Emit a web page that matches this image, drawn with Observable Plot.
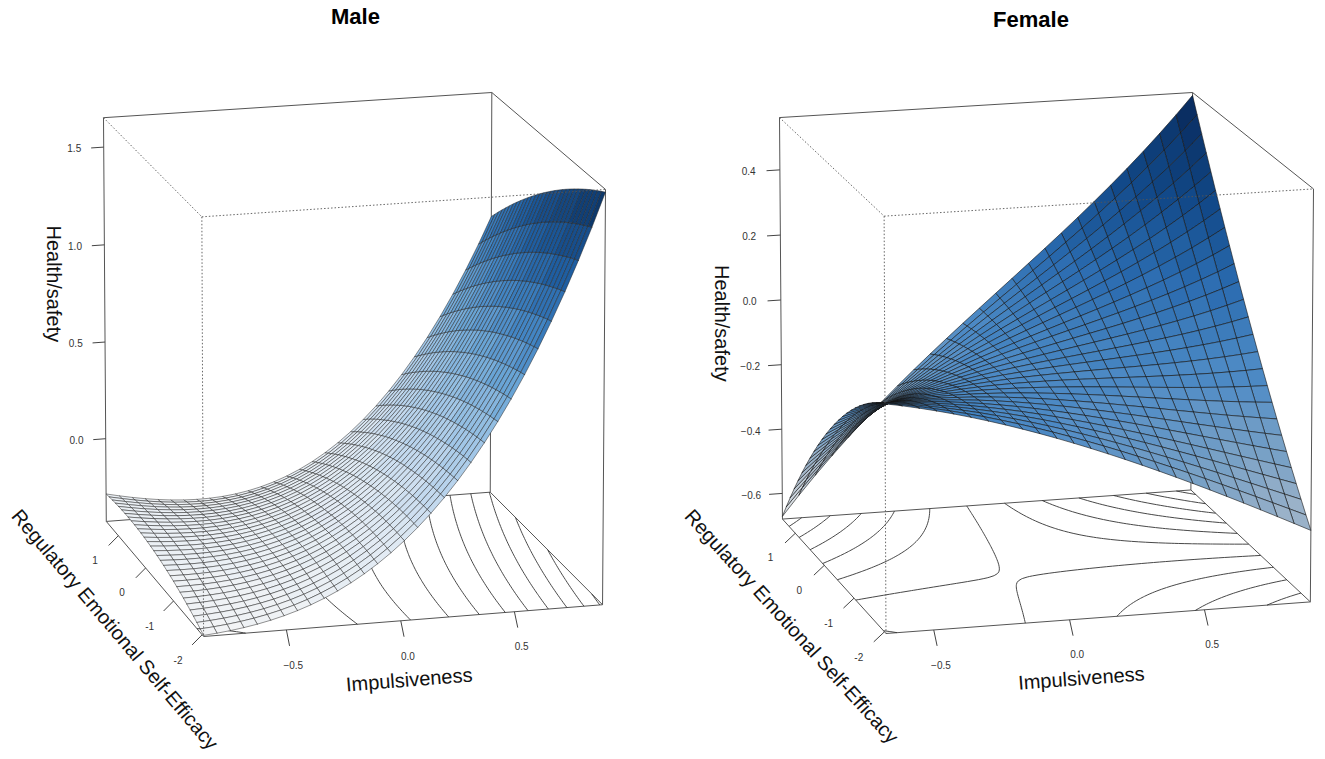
<!DOCTYPE html>
<html><head><meta charset="utf-8">
<script src="https://cdn.jsdelivr.net/npm/d3@7"></script>
<script src="https://cdn.jsdelivr.net/npm/@observablehq/plot@0.6"></script>
<style>
body{margin:0;background:#fff;}
#wrap{width:1325px;height:759px;display:flex;overflow:hidden;}
#wrap svg{overflow:visible;}
</style></head><body><div id="wrap"></div>
<script>
// ---------------- data ----------------
const panelTitles = ["Male", "Female"];
const xAxisTitle = "Impulsiveness";
const yAxisTitle = "Regulatory Emotional Self-Efficacy";
const zAxisTitle = "Health/safety";

const maleImpulsivenessLim = [-0.86, 0.89];
const maleRESELim = [-2.05, 1.45];
const maleHealthLim = [-0.43, 1.65];
const femaleImpulsivenessLim = [-0.675, 0.895];
const femaleRESELim = [-2.05, 1.45];
const femaleHealthLim = [-0.68, 0.56];

// surface heights: [Impulsiveness, RESE, Health/safety]
const maleFrontEdge = [[-0.86,-2.05,-0.43],[-0.265,-2.05,-0.23],[0.107,-2.05,0.057],[0.383,-2.05,0.47],[0.663,-2.05,1.01],[0.89,-2.05,1.65]];
const maleBackEdge = [[-0.86,1.45,-0.28],[-0.41,1.45,-0.365],[0.015,1.45,-0.236],[0.30,1.45,0.007],[0.59,1.45,0.38],[0.78,1.45,0.78],[0.89,1.45,0.99]];
const maleSideEdges = [[0.89,-0.3,1.387]];
const femaleFrontEdge = [[-0.675,-2.05,0.01],[-0.25,-2.05,-0.079],[0.06,-2.05,-0.163],[0.37,-2.05,-0.264],[0.68,-2.05,-0.383],[0.895,-2.05,-0.487]];
const femaleBackEdge = [[-0.675,1.45,-0.67],[0.16,1.45,-0.003],[0.54,1.45,0.253],[0.895,1.45,0.56]];
const femalePinchLine = [[-0.675,-2.05,0.005],[-0.578,-1.175,-0.085],[-0.48,-0.3,-0.17],[-0.385,0.575,-0.255],[-0.29,1.45,-0.34]];
const femaleSideEdges = [[0.895,-1.29,-0.225],[0.895,-0.405,-0.046],[0.895,0.36,0.151],[0.895,0.86,0.37]];

// polynomial response-surface terms (powers of Impulsiveness, RESE)
const maleTerms = [[0,0],[1,0],[2,0],[3,0],[0,1],[1,1],[2,1],[0,2]];
const femaleTerms = [[0,0],[1,0],[2,0],[3,0],[0,1],[1,1],[2,1],[3,1],[0,2],[1,2]];

const impulsivenessTicks = [-0.5, 0.0, 0.5];
const reseTicks = [-2, -1, 0, 1];
const maleHealthTicks = [0.0, 0.5, 1.0, 1.5];
const femaleHealthTicks = [-0.6, -0.4, -0.2, 0.0, 0.2, 0.4];
const maleContourLevels = [-0.4, -0.2, 0, 0.2, 0.4, 0.6, 0.8, 1.0, 1.2, 1.4, 1.6];
const femaleContourLevels = [-0.6, -0.5, -0.4, -0.3, -0.2, -0.1, 0, 0.1, 0.2, 0.3, 0.4, 0.5];

const maleColors = ["#f3f4f6", "#dde8f3", "#a6c9e8", "#6fa8d8", "#3d80c0", "#1c5a9e", "#0a3060"];
const femaleColors = ["#e6e9ec", "#aebdcc", "#7fa4c6", "#4f8cc6", "#2b6cb0", "#124a8a", "#08285a"];
const maleColorStops = [0, 0.2, 0.38, 0.52, 0.66, 0.8, 1];
const femaleColorStops = [0, 0.15, 0.3, 0.45, 0.62, 0.78, 1];

// ---------------- least-squares surface ----------------
function fitSurface(samples, terms) {
  const n = terms.length;
  const M = Array.from({length: n}, () => new Array(n + 1).fill(0));
  for (const [X, Y, z] of samples) {
    const ph = terms.map(([p, q]) => Math.pow(X, p) * Math.pow(Y, q));
    for (let i = 0; i < n; i++) {
      for (let j = 0; j < n; j++) M[i][j] += ph[i] * ph[j];
      M[i][n] += ph[i] * z;
    }
  }
  for (let i = 0; i < n; i++) M[i][i] += 1e-9;
  for (let c = 0; c < n; c++) {
    let piv = c;
    for (let r = c + 1; r < n; r++) if (Math.abs(M[r][c]) > Math.abs(M[piv][c])) piv = r;
    [M[c], M[piv]] = [M[piv], M[c]];
    for (let r = 0; r < n; r++) if (r !== c) {
      const k = M[r][c] / M[c][c];
      for (let j = c; j <= n; j++) M[r][j] -= k * M[c][j];
    }
  }
  const coef = M.map((row, i) => row[n] / row[i]);
  return (X, Y) => terms.reduce((s, [p, q], i) => s + coef[i] * Math.pow(X, p) * Math.pow(Y, q), 0);
}

// ---------------- view ----------------
const THETA = -15 * Math.PI / 180, PHI = 15 * Math.PI / 180, DIST = 45;
function project(nx, ny, nz) {
  const ct = Math.cos(THETA), st = Math.sin(THETA), cp = Math.cos(PHI), sp = Math.sin(PHI);
  const x1 = nx * ct + ny * st;
  const D = nx * st - ny * ct;
  const y2 = nz * cp - D * sp;
  const z2 = nz * sp + D * cp;
  const s = DIST / (DIST - z2);
  return {px: x1 * s, py: y2 * s, depth: z2};
}

function makePanel(o) {
  const {title, xlim, ylim, zlim, f, zTicks, levels, nGrid, colors, stops,
         L, R, T, B, width, titleDx, titleDy, xTitleShift, zTitleAt, zTitleDx, meshStroke, meshWidth} = o;
  const nX = v => 2 * (v - xlim[0]) / (xlim[1] - xlim[0]) - 1;
  const nY = v => 2 * (v - ylim[0]) / (ylim[1] - ylim[0]) - 1;
  const nZ = v => 2 * (v - zlim[0]) / (zlim[1] - zlim[0]) - 1;
  const P = (a, b, c) => project(a, b, c);

  const corners = {A: [-1, 1, 1], B: [1, 1, 1], C: [1, -1, 1], D: [-1, -1, 1],
                   A2: [-1, 1, -1], B2: [1, 1, -1], C2: [1, -1, -1], D2: [-1, -1, -1]};
  const pc = {};
  for (const k in corners) pc[k] = P(...corners[k]);
  const xDom = d3.extent(Object.values(pc), d => d.px), yDom = d3.extent(Object.values(pc), d => d.py);
  const kx = (R - L) / (xDom[1] - xDom[0]), ky = (B - T) / (yDom[1] - yDom[0]);
  const angle = (a, b) => Math.atan2(-(b.py - a.py) * ky, (b.px - a.px) * kx) * 180 / Math.PI;
  const edge = ([a, b]) => ({x1: pc[a].px, y1: pc[a].py, x2: pc[b].px, y2: pc[b].py});
  const backEdges = [["A","B"],["B","C"],["A","A2"],["B","B2"],["C","C2"],["A2","B2"],["B2","C2"],["C2","D2"],["D2","A2"]].map(edge);
  const frontEdges = [["A","D"],["D","C"],["D","D2"]].map(edge);

  const ramp = d3.scaleLinear().domain(stops).range(colors).interpolate(d3.interpolateRgb).clamp(true);

  const Xs = d3.range(nGrid + 1).map(i => xlim[0] + (xlim[1] - xlim[0]) * i / nGrid);
  const Ys = d3.range(nGrid + 1).map(j => ylim[0] + (ylim[1] - ylim[0]) * j / nGrid);
  const facets = [];
  for (let i = 0; i < nGrid; i++) for (let j = 0; j < nGrid; j++) {
    const pts = [[Xs[i], Ys[j]], [Xs[i+1], Ys[j]], [Xs[i+1], Ys[j+1]], [Xs[i], Ys[j+1]]];
    const zs = pts.map(([X, Y]) => f(X, Y));
    const pp = pts.map(([X, Y], k) => P(nX(X), nY(Y), nZ(zs[k])));
    let t = (d3.mean(zs) - zlim[0]) / (zlim[1] - zlim[0]);
    t = Math.round(t * 28) / 28;
    facets.push({pp, depth: d3.mean(pp, d => d.depth), fill: ramp(t)});
  }
  facets.sort((a, b) => a.depth - b.depth);
  const facetRows = [];
  facets.forEach((fc, id) => {
    for (const k of [0, 1, 2, 3, 0]) facetRows.push({id, px: fc.pp[k].px, py: fc.pp[k].py, fill: fc.fill});
  });

  const N = 70;
  const cx = d3.range(N + 1).map(i => xlim[0] + (xlim[1] - xlim[0]) * i / N);
  const cy = d3.range(N + 1).map(j => ylim[0] + (ylim[1] - ylim[0]) * j / N);
  const V = cx.map(X => cy.map(Y => f(X, Y)));
  const segs = [];
  for (let i = 0; i < N; i++) for (let j = 0; j < N; j++) {
    const c = [[cx[i], cy[j], V[i][j]], [cx[i+1], cy[j], V[i+1][j]], [cx[i+1], cy[j+1], V[i+1][j+1]], [cx[i], cy[j+1], V[i][j+1]]];
    for (const lv of levels) {
      const hits = [];
      for (let e = 0; e < 4; e++) {
        const a = c[e], b = c[(e + 1) % 4];
        if ((a[2] - lv) * (b[2] - lv) < 0) {
          const u = (lv - a[2]) / (b[2] - a[2]);
          hits.push([a[0] + u * (b[0] - a[0]), a[1] + u * (b[1] - a[1])]);
        }
      }
      for (let h = 0; h + 1 < hits.length; h += 2) {
        const p1 = P(nX(hits[h][0]), nY(hits[h][1]), -1), p2 = P(nX(hits[h+1][0]), nY(hits[h+1][1]), -1);
        segs.push({x1: p1.px, y1: p1.py, x2: p2.px, y2: p2.py});
      }
    }
  }

  const ticks = [], tickLabels = [];
  const fmt1 = d3.format(".1f");
  for (const v of impulsivenessTicks) {
    const a = P(nX(v), -1, -1), b = P(nX(v), -1.06, -1.06), l = P(nX(v), -1.13, -1.135);
    ticks.push({x1: a.px, y1: a.py, x2: b.px, y2: b.py});
    tickLabels.push({px: l.px, py: l.py, label: fmt1(v)});
  }
  for (const v of reseTicks) {
    const a = P(-1, nY(v), -1), b = P(-1.05, nY(v), -1.045), l = P(-1.12, nY(v), -1.115);
    ticks.push({x1: a.px, y1: a.py, x2: b.px, y2: b.py});
    tickLabels.push({px: l.px, py: l.py, label: String(v)});
  }
  for (const v of zTicks) {
    const a = P(-1, 1, nZ(v)), b = P(-1.064, 1, nZ(v)), l = P(-1.15, 1, nZ(v));
    ticks.push({x1: a.px, y1: a.py, x2: b.px, y2: b.py});
    tickLabels.push({px: l.px, py: l.py, label: fmt1(v)});
  }

  const xt = P(xTitleShift, -1.02, -1.285);
  const yt = P(-1.2, 0, -1.24);
  const zt = P(-1 - zTitleDx, 1, zTitleAt);
  const titlesData = [
    {px: xt.px, py: xt.py, label: xAxisTitle, rot: angle(pc.D2, pc.C2)},
    {px: yt.px, py: yt.py, label: yAxisTitle, rot: angle(pc.A2, pc.D2)},
    {px: zt.px, py: zt.py, label: zAxisTitle, rot: 90}
  ];

  return Plot.plot({
    width, height: 759, margin: 0,
    x: {domain: xDom, range: [L, R], axis: null},
    y: {domain: yDom, range: [B, T], axis: null},
    color: {type: "identity"},
    style: {fontFamily: "'Liberation Sans', Arial, Helvetica, sans-serif", background: "#fff", overflow: "visible"},
    marks: [
      Plot.link(backEdges, {x1: "x1", y1: "y1", x2: "x2", y2: "y2", stroke: "#555", strokeWidth: 1}),
      Plot.link(segs, {x1: "x1", y1: "y1", x2: "x2", y2: "y2", stroke: "#333", strokeWidth: 0.9}),
      Plot.link(ticks, {x1: "x1", y1: "y1", x2: "x2", y2: "y2", stroke: "#444", strokeWidth: 1}),
      Plot.text(tickLabels, {x: "px", y: "py", text: "label", fontSize: 10, fill: "#333"}),
      Plot.line(facetRows, {x: "px", y: "py", z: "id", fill: "fill", stroke: meshStroke, strokeWidth: meshWidth, strokeLinejoin: "miter", curve: "linear"}),
      Plot.link(frontEdges, {x1: "x1", y1: "y1", x2: "x2", y2: "y2", stroke: "#555", strokeWidth: 0.9, strokeDasharray: "1.5,2"}),
      Plot.text(titlesData, {x: "px", y: "py", text: "label", rotate: d => d.rot, fontSize: 20, fill: "#111"}),
      Plot.text([title], {frameAnchor: "top", dx: titleDx, dy: titleDy, lineAnchor: "top", fontSize: 22, fontWeight: "bold", fill: "#000"})
    ]
  });
}

const maleSurface = fitSurface([...maleFrontEdge, ...maleBackEdge, ...maleSideEdges], maleTerms);
const femaleSurface = fitSurface([...femaleFrontEdge, ...femaleBackEdge, ...femalePinchLine, ...femaleSideEdges], femaleTerms);

const wrap = document.getElementById("wrap");
wrap.appendChild(makePanel({
  title: panelTitles[0], xlim: maleImpulsivenessLim, ylim: maleRESELim, zlim: maleHealthLim,
  f: maleSurface, zTicks: maleHealthTicks, levels: maleContourLevels, nGrid: 30,
  colors: maleColors, stops: maleColorStops,
  L: 103, R: 605, T: 92, B: 636, width: 662, titleDx: 24, titleDy: 8,
  xTitleShift: 0.02, zTitleAt: 0.2, zTitleDx: 0.26, meshStroke: "#262626", meshWidth: 0.5
}));
wrap.appendChild(makePanel({
  title: panelTitles[1], xlim: femaleImpulsivenessLim, ylim: femaleRESELim, zlim: femaleHealthLim,
  f: femaleSurface, zTicks: femaleHealthTicks, levels: femaleContourLevels, nGrid: 25,
  colors: femaleColors, stops: femaleColorStops,
  L: 117, R: 651, T: 92, B: 633, width: 663, titleDx: 37, titleDy: 11,
  xTitleShift: -0.09, zTitleAt: 0.0, zTitleDx: 0.285, meshStroke: "#141414", meshWidth: 0.6
}));
</script></body></html>
